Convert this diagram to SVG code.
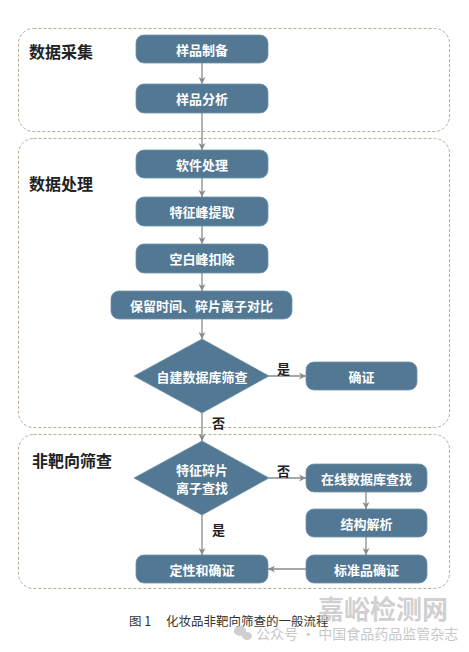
<svg xmlns="http://www.w3.org/2000/svg" width="469" height="652" viewBox="0 0 469 652">
<defs>
<style>
.grp{fill:none;stroke:#b9ad93;stroke-width:1;stroke-dasharray:3,2}
.glbl{font-family:"Noto Sans CJK SC","Noto Sans CJK JP",sans-serif;font-size:16px;font-weight:bold;fill:#222}
.box{fill:#527893;stroke:#6f92aa;stroke-width:0.8}
.btxt{font-family:"Noto Sans CJK SC","Noto Sans CJK JP",sans-serif;font-size:13px;font-weight:bold;fill:#fff;text-anchor:middle;dominant-baseline:central}
.ln{fill:none;stroke:#8a8a8a;stroke-width:1.3}
.yn{font-family:"Noto Sans CJK SC","Noto Sans CJK JP",sans-serif;font-size:13px;font-weight:bold;fill:#222}
.cap{font-family:"Noto Sans CJK SC","Noto Sans CJK JP",sans-serif;font-size:12.5px;fill:#333}
.wm{font-family:"Noto Sans CJK SC","Noto Sans CJK JP",sans-serif;fill:#c8c8c8}
</style>
<marker id="ah" viewBox="0 0 10 10" refX="10" refY="5" markerWidth="7" markerHeight="7" markerUnits="userSpaceOnUse" orient="auto">
<path d="M0,0 L10,5 L0,10 L3,5 Z" fill="#8a8a8a"/>
</marker>
</defs>
<rect width="469" height="652" fill="#fff"/>

<g id="group-collect">
<rect class="grp" x="18.5" y="28.5" width="431" height="103" rx="15"/>
<text class="glbl" x="29" y="58">数据采集</text>
</g>
<g id="group-process">
<rect class="grp" x="18.5" y="138.5" width="431" height="289" rx="15"/>
<text class="glbl" x="29" y="190">数据处理</text>
</g>
<g id="group-nontarget">
<rect class="grp" x="18.5" y="434.5" width="431" height="154" rx="15"/>
<text class="glbl" x="32" y="467">非靶向筛查</text>
</g>

<g id="connectors">
<line class="ln" x1="202" y1="63" x2="202" y2="84" marker-end="url(#ah)"/>
<line class="ln" x1="202" y1="113" x2="202" y2="150" marker-end="url(#ah)"/>
<line class="ln" x1="202" y1="178" x2="202" y2="197" marker-end="url(#ah)"/>
<line class="ln" x1="202" y1="226" x2="202" y2="244" marker-end="url(#ah)"/>
<line class="ln" x1="202" y1="273" x2="202" y2="291" marker-end="url(#ah)"/>
<line class="ln" x1="202" y1="319" x2="202" y2="339" marker-end="url(#ah)"/>
<line class="ln" x1="269" y1="376" x2="306" y2="376" marker-end="url(#ah)"/>
<text class="yn" x="277" y="374">是</text>
<line class="ln" x1="202" y1="413" x2="202" y2="441" marker-end="url(#ah)"/>
<text class="yn" x="212" y="428">否</text>
<line class="ln" x1="269" y1="478" x2="306" y2="478" marker-end="url(#ah)"/>
<text class="yn" x="277" y="476">否</text>
<line class="ln" x1="202" y1="515" x2="202" y2="555" marker-end="url(#ah)"/>
<text class="yn" x="212" y="535">是</text>
<line class="ln" x1="366" y1="492" x2="366" y2="509" marker-end="url(#ah)"/>
<line class="ln" x1="366" y1="537" x2="366" y2="555" marker-end="url(#ah)"/>
<line class="ln" x1="306" y1="569" x2="268" y2="569" marker-end="url(#ah)"/>
</g>

<g id="n-prep"><rect class="box" x="136" y="35" width="132" height="28" rx="8"/><text class="btxt" x="202" y="49">样品制备</text></g>
<g id="n-analysis"><rect class="box" x="136" y="84" width="132" height="29" rx="8"/><text class="btxt" x="202" y="98.5">样品分析</text></g>
<g id="n-software"><rect class="box" x="136" y="150" width="132" height="28" rx="8"/><text class="btxt" x="202" y="164">软件处理</text></g>
<g id="n-peak"><rect class="box" x="136" y="197" width="132" height="29" rx="8"/><text class="btxt" x="202" y="211.5">特征峰提取</text></g>
<g id="n-blank"><rect class="box" x="136" y="244" width="132" height="29" rx="8"/><text class="btxt" x="202" y="258.5">空白峰扣除</text></g>
<g id="n-compare"><rect class="box" x="111" y="291" width="181" height="28" rx="8"/><text class="btxt" x="201.5" y="305">保留时间、碎片离子对比</text></g>
<g id="n-selfdb"><polygon class="box" points="202,339 269,376 202,413 134,376"/><text class="btxt" x="202" y="376">自建数据库筛查</text></g>
<g id="n-confirm"><rect class="box" x="306" y="362" width="111" height="28" rx="8"/><text class="btxt" x="361.5" y="376">确证</text></g>
<g id="n-fragment"><polygon class="box" points="202,441 269,478 202,515 134,478"/><text class="btxt" x="202" y="469"><tspan x="202" dy="0">特征碎片</tspan><tspan x="202" dy="18">离子查找</tspan></text></g>
<g id="n-online"><rect class="box" x="306" y="464" width="121" height="28" rx="8"/><text class="btxt" x="366.5" y="478">在线数据库查找</text></g>
<g id="n-struct"><rect class="box" x="306" y="509" width="121" height="28" rx="8"/><text class="btxt" x="366.5" y="523">结构解析</text></g>
<g id="n-standard"><rect class="box" x="306" y="555" width="121" height="28" rx="8"/><text class="btxt" x="366.5" y="569">标准品确证</text></g>
<g id="n-qual"><rect class="box" x="136" y="555" width="132" height="28" rx="8"/><text class="btxt" x="202" y="569">定性和确证</text></g>

<g id="caption">
<text class="cap" x="129" y="626">图 1</text>
<text class="cap" x="166" y="626">化妆品非靶向筛查的一般流程</text>
</g>
<g id="watermark">
<text class="wm" x="318" y="619" font-size="26" font-weight="bold" opacity="0.85">嘉峪检测网</text>
<ellipse cx="240" cy="631" rx="6" ry="5" fill="#cfcfcf"/>
<ellipse cx="247" cy="636" rx="5" ry="4" fill="#cfcfcf"/>
<text class="wm" x="256" y="639" font-size="14">公众号 · 中国食品药品监管杂志</text>
</g>
</svg>
